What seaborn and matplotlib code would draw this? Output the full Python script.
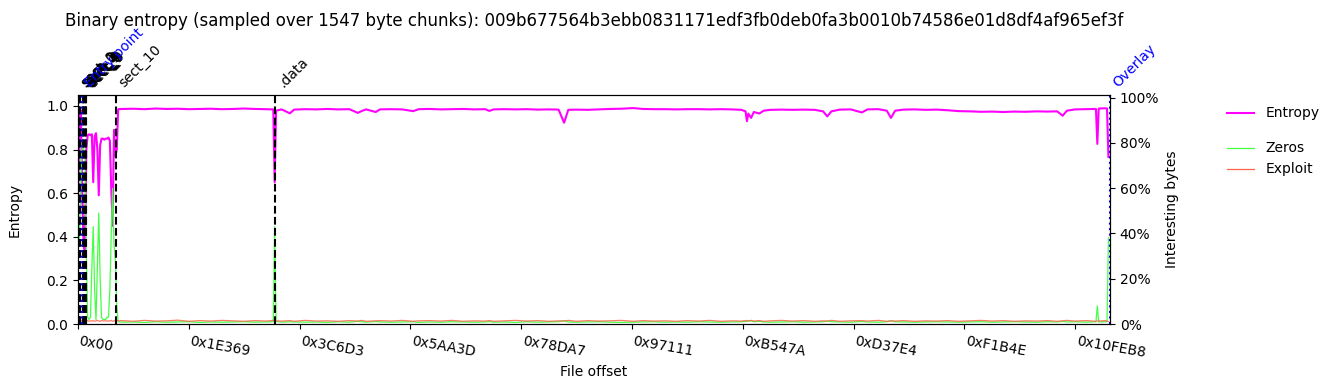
import matplotlib
matplotlib.use("Agg")
import matplotlib.pyplot as plt
import matplotlib.transforms as mtransforms
from matplotlib.ticker import PercentFormatter
from matplotlib.lines import Line2D
import numpy as np
import pandas as pd
import seaborn as sns

TITLE = ("Binary entropy (sampled over 1547 byte chunks): "
         "009b677564b3ebb0831171edf3fb0deb0fa3b0010b74586e01d8df4af965ef3f")

CHUNK_SIZE = 1547
FILE_SIZE = 1152744

X_TICK_LABELS = ["0x00", "0x1E369", "0x3C6D3", "0x5AA3D", "0x78DA7",
                 "0x97111", "0xB547A", "0xD37E4", "0xF1B4E", "0x10FEB8"]

SECTION_NAMES = ["sect_0", "sect_1", "sect_2", "sect_3", "sect_4", "sect_5",
                 "sect_6", "sect_7", "sect_8", "sect_9", "sect_10", ".data"]
SECTION_OFFSETS = [0, 800, 1600, 2400, 5200, 6000,
                   6800, 7600, 8400, 9200, 43000, 220600]
MARKER_NAMES = ["Entry point", "Overlay"]
MARKER_OFFSETS = [4800, 1152600]

CHUNK_INDEX = [
    0, 1, 2, 3, 4, 5, 6, 7, 8, 9,
    10, 11, 12, 13, 14, 15, 16, 17, 18, 19,
    20, 21, 22, 23, 24, 25, 26, 27, 28, 29,
    32, 40, 48, 56, 64, 72, 80, 88, 96, 104,
    112, 120, 128, 136, 141, 142, 143, 147, 153, 156,
    164, 172, 180, 188, 196, 202, 205, 208, 215, 218,
    226, 234, 242, 246, 254, 262, 270, 278, 286, 294,
    297, 300, 308, 316, 324, 332, 340, 347, 351, 354,
    360, 368, 376, 384, 392, 401, 408, 416, 424, 432,
    440, 448, 456, 464, 472, 479, 482, 483, 484, 486,
    488, 492, 495, 500, 508, 516, 524, 532, 538, 541,
    544, 550, 558, 566, 570, 578, 584, 587, 590, 596,
    604, 612, 620, 628, 636, 644, 652, 660, 668, 676,
    684, 692, 700, 707, 711, 714, 720, 728, 735, 736,
    737, 742, 743, 744,
]

ENTROPY = [
    0.56, 0.92, 0.98, 0.62, 0.36, 0.33, 0.80, 0.865, 0.87, 0.865,
    0.87, 0.65, 0.86, 0.875, 0.80, 0.59, 0.82, 0.85, 0.85, 0.845,
    0.85, 0.85, 0.855, 0.84, 0.62, 0.45, 0.89, 0.77, 0.80, 0.985,
    0.986, 0.987, 0.985, 0.988, 0.986, 0.987, 0.985, 0.986, 0.987, 0.985,
    0.986, 0.988, 0.986, 0.985, 0.984, 0.650, 0.978, 0.984, 0.966, 0.983,
    0.985, 0.984, 0.986, 0.984, 0.985, 0.968, 0.977, 0.984, 0.972, 0.984,
    0.985, 0.984, 0.976, 0.985, 0.986, 0.984, 0.985, 0.986, 0.984, 0.985,
    0.977, 0.984, 0.985, 0.984, 0.985, 0.983, 0.984, 0.983, 0.923, 0.982,
    0.983, 0.982, 0.984, 0.986, 0.987, 0.990, 0.986, 0.985, 0.985, 0.984,
    0.985, 0.985, 0.984, 0.985, 0.984, 0.982, 0.975, 0.930, 0.965, 0.945,
    0.972, 0.965, 0.978, 0.982, 0.983, 0.982, 0.983, 0.982, 0.975, 0.952,
    0.975, 0.983, 0.984, 0.970, 0.984, 0.985, 0.978, 0.945, 0.978, 0.983,
    0.984, 0.982, 0.983, 0.980, 0.976, 0.975, 0.973, 0.974, 0.972, 0.974,
    0.973, 0.975, 0.974, 0.975, 0.955, 0.978, 0.984, 0.985, 0.986, 0.826,
    0.988, 0.989, 0.988, 0.766,
]

ZEROS = [
    0.54, 0.35, 0.60, 0.80, 0.78, 0.74, 0.30, 0.03, 0.02, 0.03,
    0.25, 0.43, 0.15, 0.02, 0.25, 0.49, 0.20, 0.03, 0.02, 0.02,
    0.02, 0.03, 0.03, 0.15, 0.40, 0.60, 0.35, 0.28, 0.08, 0.010,
    0.008, 0.009, 0.007, 0.010, 0.008, 0.009, 0.010, 0.007, 0.009, 0.008,
    0.009, 0.010, 0.008, 0.009, 0.010, 0.430, 0.012, 0.008, 0.010, 0.009,
    0.008, 0.009, 0.007, 0.010, 0.008, 0.012, 0.010, 0.008, 0.011, 0.009,
    0.008, 0.009, 0.010, 0.007, 0.009, 0.008, 0.010, 0.009, 0.008, 0.009,
    0.011, 0.008, 0.009, 0.007, 0.010, 0.008, 0.009, 0.010, 0.015, 0.009,
    0.008, 0.009, 0.010, 0.008, 0.007, 0.008, 0.009, 0.010, 0.008, 0.009,
    0.008, 0.010, 0.009, 0.008, 0.009, 0.010, 0.011, 0.016, 0.012, 0.014,
    0.010, 0.012, 0.009, 0.008, 0.009, 0.010, 0.008, 0.009, 0.010, 0.013,
    0.010, 0.009, 0.008, 0.011, 0.009, 0.008, 0.010, 0.014, 0.010, 0.009,
    0.008, 0.009, 0.010, 0.009, 0.008, 0.009, 0.010, 0.008, 0.009, 0.010,
    0.009, 0.008, 0.010, 0.009, 0.012, 0.009, 0.010, 0.008, 0.010, 0.080,
    0.009, 0.010, 0.010, 0.380,
]

EXPLOIT = [
    0.012, 0.014, 0.013, 0.015, 0.012, 0.014, 0.013, 0.015, 0.012, 0.014,
    0.013, 0.015, 0.012, 0.014, 0.016, 0.013, 0.012, 0.015, 0.014, 0.013,
    0.015, 0.012, 0.014, 0.013, 0.016, 0.012, 0.014, 0.013, 0.015, 0.014,
    0.015, 0.012, 0.016, 0.013, 0.014, 0.017, 0.012, 0.015, 0.013, 0.016,
    0.014, 0.012, 0.015, 0.013, 0.016, 0.010, 0.014, 0.013, 0.015, 0.012,
    0.016, 0.013, 0.014, 0.012, 0.015, 0.013, 0.016, 0.012, 0.014, 0.015,
    0.013, 0.016, 0.012, 0.014, 0.015, 0.013, 0.016, 0.012, 0.014, 0.013,
    0.015, 0.012, 0.014, 0.016, 0.013, 0.015, 0.012, 0.014, 0.013, 0.016,
    0.012, 0.015, 0.013, 0.014, 0.016, 0.012, 0.015, 0.013, 0.014, 0.012,
    0.015, 0.013, 0.016, 0.012, 0.014, 0.013, 0.015, 0.012, 0.014, 0.016,
    0.013, 0.015, 0.012, 0.014, 0.016, 0.013, 0.015, 0.012, 0.014, 0.013,
    0.016, 0.012, 0.014, 0.015, 0.013, 0.016, 0.012, 0.014, 0.013, 0.015,
    0.012, 0.014, 0.013, 0.015, 0.012, 0.014, 0.016, 0.013, 0.015, 0.012,
    0.014, 0.013, 0.015, 0.012, 0.014, 0.016, 0.013, 0.015, 0.012, 0.014,
    0.013, 0.015, 0.012, 0.011,
]

df = pd.DataFrame({
    "offset": np.array(CHUNK_INDEX) * CHUNK_SIZE,
    "entropy": ENTROPY,
    "zeros": ZEROS,
    "exploit": EXPLOIT,
})

ENTROPY_COLOR = "#ff00ff"
ZEROS_COLOR = "#44ff44"
EXPLOIT_COLOR = "#ff6347"

W, H = 1335, 390
fig = plt.figure(figsize=(W / 100, H / 100), dpi=100)
ax1 = fig.add_axes([78 / W, 1 - 324 / H, 1032 / W, 229 / H])
ax2 = ax1.twinx()

sns.lineplot(data=df, x="offset", y="entropy", ax=ax1, color=ENTROPY_COLOR,
             linewidth=1.5, estimator=None, sort=False, legend=False)
sns.lineplot(data=df, x="offset", y="zeros", ax=ax2, color=ZEROS_COLOR,
             linewidth=0.9, estimator=None, sort=False, legend=False)
sns.lineplot(data=df, x="offset", y="exploit", ax=ax2, color=EXPLOIT_COLOR,
             linewidth=0.9, alpha=0.85, estimator=None, sort=False, legend=False)

trans = mtransforms.blended_transform_factory(ax2.transData, ax2.transAxes)
for name, off in zip(SECTION_NAMES, SECTION_OFFSETS):
    ax2.axvline(off, color="black", linestyle="--", linewidth=1.5)
    ax2.text(off, 1.02, name, transform=trans, rotation=45, ha="left",
             va="bottom", fontsize=10, color="black", clip_on=False)
for name, off in zip(MARKER_NAMES, MARKER_OFFSETS):
    ax2.axvline(off, color="blue", linestyle=":", linewidth=1.5)
    ax2.text(off, 1.02, name, transform=trans, rotation=45, ha="left",
             va="bottom", fontsize=10, color="blue", clip_on=False)

ax1.set_xlim(0, FILE_SIZE)
ax1.set_ylim(0, 1.05)
ax2.set_ylim(0, 1.012)
ax1.set_yticks([0.0, 0.2, 0.4, 0.6, 0.8, 1.0])
ax2.set_yticks([0.0, 0.2, 0.4, 0.6, 0.8, 1.0])
ax2.yaxis.set_major_formatter(PercentFormatter(1.0, decimals=0))

tick_pos = [int(t, 16) for t in X_TICK_LABELS]
ax1.set_xticks(tick_pos)
ax1.set_xticklabels(X_TICK_LABELS, rotation=-10, ha="left")

ax1.set_xlabel("File offset")
ax1.set_ylabel("Entropy", labelpad=18)
ax2.set_ylabel("Interesting bytes")
ax1.set_title(TITLE, pad=50, fontsize=12)

h_ent = Line2D([], [], color=ENTROPY_COLOR, linewidth=1.5)
h_zero = Line2D([], [], color=ZEROS_COLOR, linewidth=0.9)
h_expl = Line2D([], [], color=EXPLOIT_COLOR, linewidth=0.9)
fig.legend(handles=[h_ent], labels=["Entropy"], loc="upper left",
           bbox_to_anchor=(1214 / W, 1 - 94 / H), frameon=False)
fig.legend(handles=[h_zero, h_expl], labels=["Zeros", "Exploit"],
           loc="upper left", bbox_to_anchor=(1214 / W, 1 - 129 / H),
           frameon=False)

fig.savefig("out.png", dpi=100)
